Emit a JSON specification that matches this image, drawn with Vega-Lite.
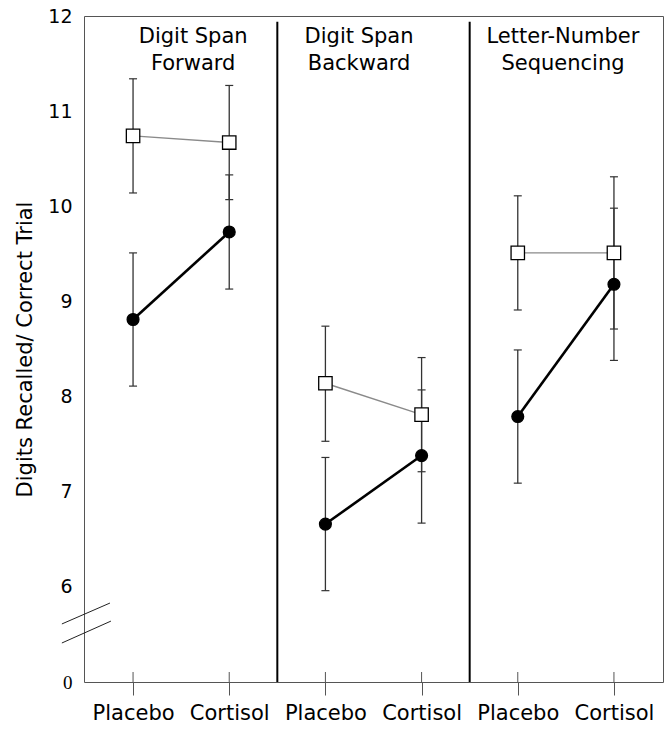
{
  "$schema": "https://vega.github.io/schema/vega-lite/v6.json",
  "width": 579,
  "height": 666,
  "autosize": "none",
  "padding": {"left": 84, "top": 16, "right": 8, "bottom": 47},
  "background": "white",
  "config": {
    "view": {"stroke": "#555", "strokeWidth": 1},
    "axis": {"grid": false, "domain": false}
  },
  "datasets": {
    "points": [
      {"task": "Digit Span Forward", "cond": "Placebo", "pos": 1, "group": "open", "mean": 10.74, "lo": 10.14, "hi": 11.34},
      {"task": "Digit Span Forward", "cond": "Cortisol", "pos": 2, "group": "open", "mean": 10.67, "lo": 10.07, "hi": 11.27},
      {"task": "Digit Span Forward", "cond": "Placebo", "pos": 1, "group": "filled", "mean": 8.81, "lo": 8.11, "hi": 9.51},
      {"task": "Digit Span Forward", "cond": "Cortisol", "pos": 2, "group": "filled", "mean": 9.73, "lo": 9.13, "hi": 10.33},
      {"task": "Digit Span Backward", "cond": "Placebo", "pos": 3, "group": "open", "mean": 8.14, "lo": 7.53, "hi": 8.74},
      {"task": "Digit Span Backward", "cond": "Cortisol", "pos": 4, "group": "open", "mean": 7.81, "lo": 7.21, "hi": 8.41},
      {"task": "Digit Span Backward", "cond": "Placebo", "pos": 3, "group": "filled", "mean": 6.66, "lo": 5.96, "hi": 7.36},
      {"task": "Digit Span Backward", "cond": "Cortisol", "pos": 4, "group": "filled", "mean": 7.38, "lo": 6.67, "hi": 8.07},
      {"task": "Letter-Number Sequencing", "cond": "Placebo", "pos": 5, "group": "open", "mean": 9.51, "lo": 8.91, "hi": 10.11},
      {"task": "Letter-Number Sequencing", "cond": "Cortisol", "pos": 6, "group": "open", "mean": 9.51, "lo": 8.71, "hi": 10.31},
      {"task": "Letter-Number Sequencing", "cond": "Placebo", "pos": 5, "group": "filled", "mean": 7.79, "lo": 7.09, "hi": 8.49},
      {"task": "Letter-Number Sequencing", "cond": "Cortisol", "pos": 6, "group": "filled", "mean": 9.18, "lo": 8.38, "hi": 9.98}
    ],
    "panels": [
      {"title": "Digit Span\nForward", "tx": 1.625, "sep": 2.5},
      {"title": "Digit Span\nBackward", "tx": 3.35, "sep": 4.5},
      {"title": "Letter-Number\nSequencing", "tx": 5.47, "sep": null}
    ],
    "breaks": [
      {"bx": 0.26, "bx2": 0.76, "by": 5.61, "by2": 5.83},
      {"bx": 0.26, "bx2": 0.77, "by": 5.41, "by2": 5.64}
    ]
  },
  "layer": [
    {
      "data": {"name": "panels"},
      "transform": [{"filter": "datum.sep != null"}],
      "mark": {"type": "rule", "color": "black", "strokeWidth": 2},
      "encoding": {
        "x": {"field": "sep", "type": "quantitative", "scale": {"domain": [0.49, 6.51], "nice": false, "zero": false},
          "axis": {"values": [1, 2, 3, 4, 5, 6], "labelExpr": "datum.value % 2 == 1 ? 'Placebo' : 'Cortisol'", "title": null, "tickSize": 13, "tickColor": "#555", "tickWidth": 1, "labelFont": "DejaVu Sans", "labelFontSize": 21, "labelColor": "black", "labelPadding": 7, "labelFlush": false, "labelOverlap": false}},
        "y": {"datum": 5, "type": "quantitative", "scale": {"domain": [5, 12], "nice": false, "zero": false},
          "axis": {"values": [5, 6, 7, 8, 9, 10, 11, 12], "format": "d", "labelExpr": "datum.value == 5 ? '0' : datum.label", "ticks": false, "labelPadding": 12, "labelFontSize": 19, "labelColor": "black",
            "labelFont": {"condition": {"test": "datum.value == 5", "value": "Liberation Serif"}, "value": "DejaVu Sans"},
            "title": "Digits Recalled/ Correct Trial", "titleFont": "DejaVu Sans", "titleFontSize": 21, "titleFontWeight": "normal", "titleColor": "black", "titlePadding": 12}},
        "y2": {"datum": 11.94}
      }
    },
    {
      "data": {"name": "points"},
      "transform": [{"filter": "datum.group == 'open'"}],
      "mark": {"type": "rule", "color": "#555", "strokeWidth": 1, "clip": false},
      "encoding": {
        "x": {"field": "pos", "type": "quantitative"},
        "y": {"datum": 5},
        "y2": {"datum": 5.105}
      }
    },
    {
      "data": {"name": "breaks"},
      "mark": {"type": "rule", "color": "#222", "strokeWidth": 1, "clip": false},
      "encoding": {
        "x": {"field": "bx", "type": "quantitative"},
        "x2": {"field": "bx2"},
        "y": {"field": "by", "type": "quantitative"},
        "y2": {"field": "by2"}
      }
    },
    {
      "data": {"name": "points"},
      "mark": {"type": "rule", "color": "#333", "strokeWidth": 1.3},
      "encoding": {
        "x": {"field": "pos", "type": "quantitative"},
        "y": {"field": "lo", "type": "quantitative"},
        "y2": {"field": "hi"}
      }
    },
    {
      "data": {"name": "points"},
      "mark": {"type": "tick", "orient": "horizontal", "color": "#333", "size": 8, "thickness": 1.2, "opacity": 1},
      "encoding": {
        "x": {"field": "pos", "type": "quantitative"},
        "y": {"field": "lo", "type": "quantitative"}
      }
    },
    {
      "data": {"name": "points"},
      "mark": {"type": "tick", "orient": "horizontal", "color": "#333", "size": 8, "thickness": 1.2, "opacity": 1},
      "encoding": {
        "x": {"field": "pos", "type": "quantitative"},
        "y": {"field": "hi", "type": "quantitative"}
      }
    },
    {
      "data": {"name": "points"},
      "mark": {"type": "line"},
      "encoding": {
        "x": {"field": "pos", "type": "quantitative"},
        "y": {"field": "mean", "type": "quantitative"},
        "detail": {"field": "task"},
        "color": {"field": "group", "type": "nominal", "scale": {"domain": ["open", "filled"], "range": ["#8a8a8a", "black"]}, "legend": null},
        "strokeWidth": {"field": "group", "type": "nominal", "scale": {"domain": ["open", "filled"], "range": [1.4, 2.6]}, "legend": null}
      }
    },
    {
      "data": {"name": "points"},
      "mark": {"type": "point", "filled": false, "strokeWidth": 1.3, "opacity": 1},
      "encoding": {
        "x": {"field": "pos", "type": "quantitative"},
        "y": {"field": "mean", "type": "quantitative"},
        "shape": {"field": "group", "type": "nominal", "scale": {"domain": ["open", "filled"], "range": ["square", "circle"]}, "legend": null},
        "fill": {"field": "group", "type": "nominal", "scale": {"domain": ["open", "filled"], "range": ["white", "black"]}, "legend": null},
        "stroke": {"value": "black"},
        "size": {"field": "group", "type": "nominal", "scale": {"domain": ["open", "filled"], "range": [180, 140]}, "legend": null}
      }
    },
    {
      "data": {"name": "panels"},
      "mark": {"type": "text", "font": "DejaVu Sans", "fontSize": 21, "color": "black", "align": "center", "baseline": "alphabetic", "lineBreak": "\n", "lineHeight": 27, "dy": 27},
      "encoding": {
        "x": {"field": "tx", "type": "quantitative"},
        "y": {"datum": 12},
        "text": {"field": "title"}
      }
    }
  ]
}
